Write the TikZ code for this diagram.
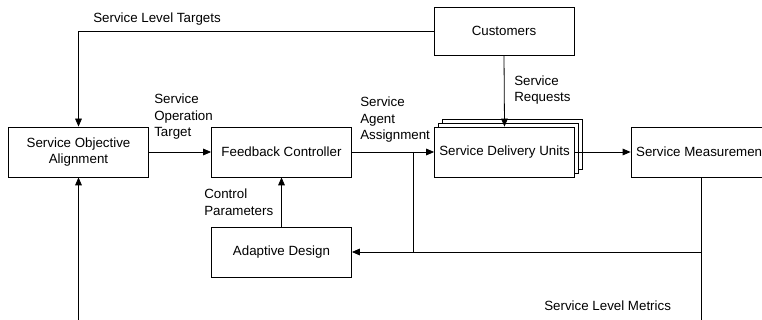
\documentclass[tikz,border=0pt]{standalone}
\usepackage{fontspec}
\setmainfont{Liberation Sans}
\usetikzlibrary{arrows.meta}
\begin{document}
\begin{tikzpicture}[x=0.75pt,y=-0.75pt,
    font=\fontsize{10}{12.4}\selectfont,
    block/.style={draw,fill=white,line width=0.6pt,minimum width=105pt,minimum height=37.5pt,align=center,inner sep=2pt},
    lbl/.style={anchor=west,align=left,inner sep=0pt},
    flow/.style={line width=0.6pt,-{Triangle[length=6pt,width=5pt]}},
    wire/.style={line width=0.6pt}]
  \useasboundingbox (0,0) rectangle (762,320);
  \clip (0,0) rectangle (762,320);
  % boxes
  \node[block,minimum height=36pt] (cust) at (504,31) {Customers};
  \node[block] (soa) at (78.5,152) {Service Objective\\Alignment};
  \node[block] (fc) at (281.5,152) {Feedback Controller};
  \node[block] (sduback) at (512.5,144) {};
  \node[block] (sdumid) at (508.5,148) {};
  \node[block] (sdu) at (504.5,152) {Service Delivery Units};
  \node[block] (sm) at (701,152) {Service Measurement};
  \node[block] (ad) at (281.5,252) {Adaptive Design};
  % free ends
  \coordinate (branch) at (413,152);
  \coordinate (bl) at (78.5,320);
  \coordinate (br) at (701,320);
  % connectors
  \draw[flow] (cust.west) -| (soa.north);
  \draw[flow] (soa.east) -- (fc.west);
  \draw[flow] (fc.east) -- (sdu.west);
  \draw[flow] (cust.south) -- (sdu.north);
  \draw[flow] (sdu.east) -- (sm.west);
  \draw[flow] (ad.north) -- (fc.south);
  \draw[wire] (sm.south) -- (br);
  \draw[wire] (branch) -- (branch |- ad.east);
  \draw[flow] (sm.south |- ad.east) -- (ad.east);
  \draw[flow] (bl) -- (soa.south);
  % labels
  \node[lbl] (tlbl) at (93,19) {Service Level Targets};
  \node[lbl] (olbl) at (154,117) {Service\\Operation\\Target};
  \node[lbl] (albl) at (360,120) {Service\\Agent\\Assignment};
  \node[lbl] (rlbl) at (514,90) {Service\\Requests};
  \node[lbl] (clbl) at (204,202.5) {Control\\Parameters};
  \node[lbl] (mlbl) at (544,306) {Service Level Metrics};
\end{tikzpicture}
\end{document}
